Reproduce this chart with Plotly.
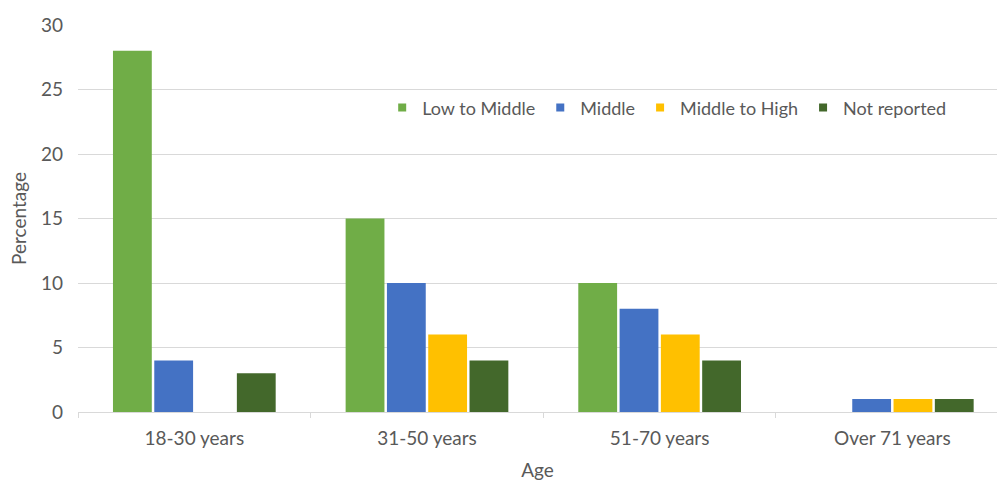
import plotly.graph_objects as go

categories = ["18-30 years", "31-50 years", "51-70 years", "Over 71 years"]
low_to_middle = [28, 15, 10, 0]
middle = [4, 10, 8, 1]
middle_to_high = [0, 6, 6, 1]
not_reported = [3, 4, 4, 1]
y_ticks = [0, 5, 10, 15, 20, 25, 30]

series = [
    ("Low to Middle", low_to_middle, "#70AD47"),
    ("Middle", middle, "#4472C4"),
    ("Middle to High", middle_to_high, "#FFC000"),
    ("Not reported", not_reported, "#43682B"),
]

fig = go.Figure()
for name, vals, color in series:
    fig.add_trace(go.Bar(x=categories, y=vals, name=name, marker_color=color,
                         marker_line_width=0, showlegend=False, legendgroup=name))
# legend entries with small square keys
for name, vals, color in series:
    fig.add_trace(go.Scatter(x=[None], y=[None], mode="markers", name=name,
                             legendgroup=name,
                             marker=dict(symbol="square", size=8, color=color)))

font_family = "Lato, 'Open Sans', sans-serif"
txt = "#595959"
fig.update_layout(
    width=998, height=481,
    margin=dict(l=78, r=1, t=25, b=69),
    paper_bgcolor="white", plot_bgcolor="white",
    barmode="group", bargap=0.29, bargroupgap=0.06,
    font=dict(family=font_family, size=19, color=txt),
    legend=dict(orientation="h", x=0.331, y=0.786, xanchor="left", yanchor="middle",
                font=dict(size=18, color=txt), bgcolor="rgba(0,0,0,0)",
                itemwidth=30, traceorder="normal"),
    showlegend=True,
)
fig.update_xaxes(
    type="category", range=[-0.5, 3.45],
    showline=True, linecolor="#D9D9D9", linewidth=1,
    ticks="outside", tickson="boundaries", ticklen=5, tickcolor="#D9D9D9",
    showgrid=False, ticklabelstandoff=9,
    title=dict(text="Age", font=dict(size=19, color=txt), standoff=15),
    tickfont=dict(size=19, color=txt),
)
fig.update_yaxes(
    range=[0, 30], tickvals=y_ticks,
    showgrid=True, gridcolor="#D9D9D9", gridwidth=1,
    zeroline=False, showline=False,
    ticks="", ticklabelstandoff=14,
    title=dict(text="Percentage", font=dict(size=19, color=txt), standoff=9),
    tickfont=dict(size=19, color=txt),
)

fig.write_html("out.html")
